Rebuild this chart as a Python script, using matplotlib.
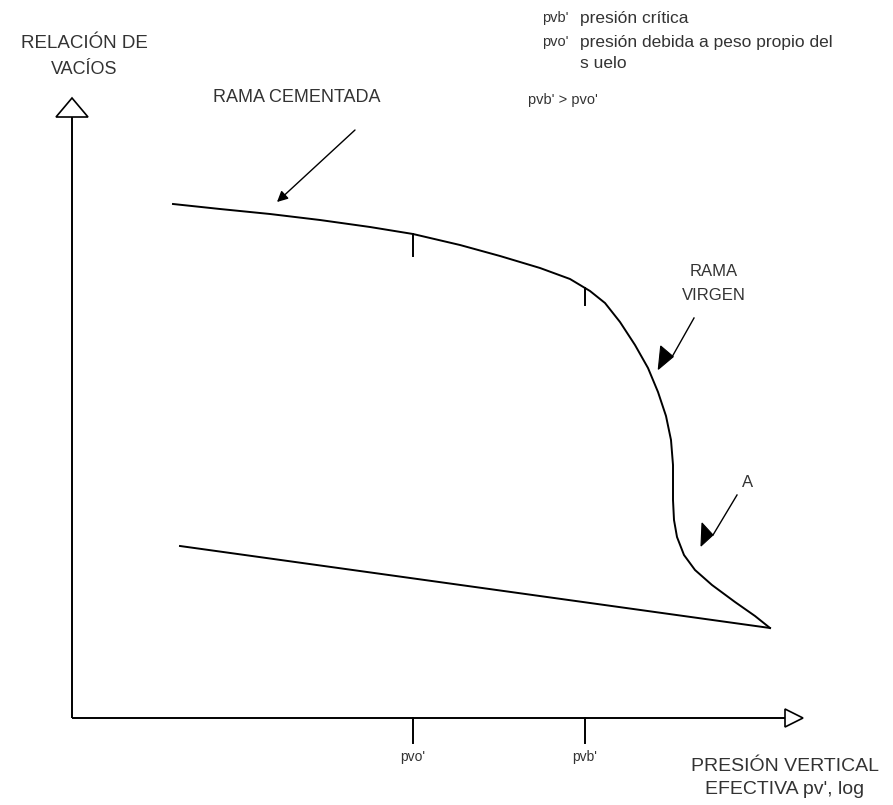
import matplotlib
matplotlib.use("Agg")
import matplotlib.pyplot as plt
from matplotlib.patches import Polygon
import numpy as np

# Compression curve (e vs log p'), in drawing units with the origin at the axes corner
curve_p = [101, 148, 198, 248, 298, 341, 388, 428, 468, 498, 518, 533, 548, 563,
           576, 586, 594, 599, 601, 601, 602, 605, 612, 623, 640, 663, 683, 698]
curve_e = [514, 509, 504, 498, 491, 484, 473, 462, 450, 439, 427, 415, 396, 373,
           350, 326, 302, 278, 253, 218, 198, 181, 163, 148, 133, 116, 102, 90]

# Unloading branch
unload_p = [108, 698]
unload_e = [172, 90]

# Characteristic pressures
tick_pos = [341, 513]
tick_labels = ["pvo'", "pvb'"]

TEXT = "#333333"
FONT = "Liberation Sans"

fig = plt.figure(figsize=(8.93, 8.05), dpi=100)
ax = fig.add_axes([0, 0, 1, 1])
ax.set_xlim(-72, 821)
ax.set_ylim(-87, 718)
ax.axis("off")

lw = 1.4

# Axes with hollow arrowheads
ax.plot([0, 0], [0, 601], color="black", lw=lw, solid_capstyle="butt")
ax.add_patch(Polygon([[-16, 601], [16, 601], [0, 620]], closed=True,
                     facecolor="white", edgecolor="black", lw=1.2))
ax.plot([0, 713], [0, 0], color="black", lw=lw, solid_capstyle="butt")
ax.add_patch(Polygon([[713, -9], [713, 9], [731, 0]], closed=True,
                     facecolor="white", edgecolor="black", lw=1.2))

# Curves
ax.plot(curve_p, curve_e, color="black", lw=lw, solid_joinstyle="round")
ax.plot(unload_p, unload_e, color="black", lw=lw)

# Ticks on the pressure axis and marks on the curve
curve_len = {341: 22, 513: 17}
for x, lab in zip(tick_pos, tick_labels):
    ax.plot([x, x], [0, -25], color="black", lw=lw)
    ax.text(x, -39, lab, ha="center", va="center", fontsize=10,
            color=TEXT, family=FONT)
    yc = np.interp(x, curve_p, curve_e)
    ax.plot([x, x], [yc, yc - curve_len[x]], color="black", lw=lw)

# Axis titles
ax.text(12, 675, "RELACIÓN DE", ha="center", va="center", fontsize=13.5,
        color=TEXT, family=FONT)
ax.text(12, 648, "VACÍOS", ha="center", va="center", fontsize=13,
        color=TEXT, family=FONT)
ax.text(713, -48, "PRESIÓN VERTICAL", ha="center", va="center", fontsize=14,
        color=TEXT, family=FONT)
ax.text(713, -71, "EFECTIVA pv', log", ha="center", va="center", fontsize=14,
        color=TEXT, family=FONT)

# Branch labels and arrows
ax.text(141, 621, "RAMA CEMENTADA", ha="left", va="center", fontsize=13,
        color=TEXT, family=FONT)
ax.annotate("", xy=(205, 516), xytext=(283, 588),
            arrowprops=dict(arrowstyle="-|>", lw=1.0, color="black",
                            mutation_scale=16, shrinkA=0, shrinkB=0))

ax.text(642, 447, "RAMA", ha="center", va="center", fontsize=12,
        color=TEXT, family=FONT)
ax.text(642, 423, "VIRGEN", ha="center", va="center", fontsize=12,
        color=TEXT, family=FONT)
ax.plot([622, 600], [400, 361], color="black", lw=1.0)
ax.add_patch(Polygon([[588.7, 372], [586.3, 348.7], [601.3, 361.3]], closed=True,
                     facecolor="black", edgecolor="black", lw=0.8))

ax.text(676, 236, "A", ha="center", va="center", fontsize=12,
        color=TEXT, family=FONT)
ax.plot([665, 641], [223, 183], color="black", lw=1.0)
ax.add_patch(Polygon([[630, 195], [629, 172], [641, 183]], closed=True,
                     facecolor="black", edgecolor="black", lw=0.8))

# Notation key
key = [("pvb'", "presión crítica", 700),
       ("pvo'", "presión debida a peso propio del", 676)]
for sym, desc, y in key:
    ax.text(470, y, sym, ha="left", va="center", fontsize=10.5,
            color=TEXT, family=FONT)
    ax.text(508, y, desc, ha="left", va="center", fontsize=12.5,
            color=TEXT, family=FONT)
ax.text(508, 655, "s uelo", ha="left", va="center", fontsize=12.5,
        color=TEXT, family=FONT)
ax.text(456, 618, "pvb' > pvo'", ha="left", va="center", fontsize=10.5,
        color=TEXT, family=FONT)

fig.savefig("out.png", dpi=100, facecolor="white")
